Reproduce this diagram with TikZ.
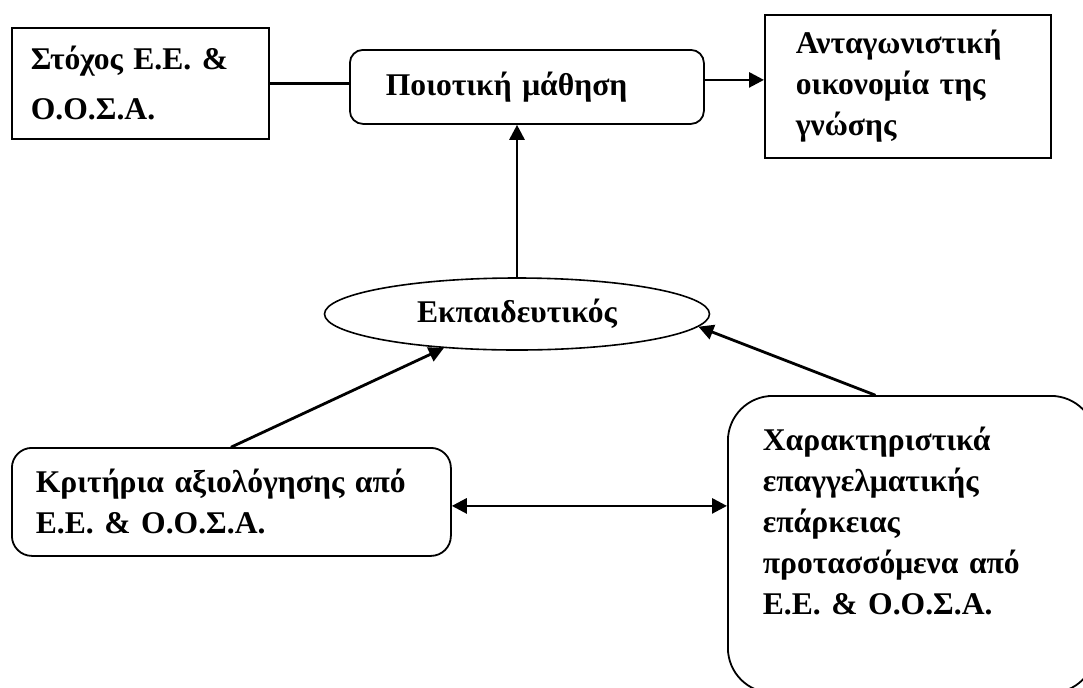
\documentclass[tikz,border=0pt]{standalone}
\usepackage{fontspec}
\setmainfont{Liberation Serif}
\usetikzlibrary{arrows.meta,shapes.geometric}

\begin{document}
\begin{tikzpicture}[x=0.5pt,y=-0.5pt,line cap=round,
  box/.style={draw,line width=0.9pt,anchor=north west,align=left,inner ysep=0pt,
    font=\bfseries\fontsize{15.8}{20.5}\selectfont},
  rbox/.style={box,rounded corners=#1},
  conn/.style={line width=1.4pt},
  arr/.style={conn,-{Triangle[length=7.5pt,width=7.5pt]}},
  dblarr/.style={conn,{Triangle[length=7.5pt,width=7.5pt]}-{Triangle[length=7.5pt,width=7.5pt]}}]

% --- Cornice ---
\useasboundingbox (0,0) rectangle (1083,687);

% --- Riquadri in alto ---
\node[box,text width=109.5pt,inner xsep=9.5pt,minimum height=55.5pt,
  font=\bfseries\fontsize{15.8}{25}\selectfont] (stoxos) at (11,27)
  {Στόχος Ε.Ε. \&\\Ο.Ο.Σ.Α.};
\node[rbox=6.5pt,text width=141pt,inner xsep=18pt,minimum height=37pt] (poiotiki) at (349,49)
  {Ποιοτική μάθηση};
\node[box,text width=112pt,inner xsep=15.5pt,minimum height=71.5pt] (antag) at (764,14)
  {Ανταγωνιστική\\οικονομία της\\γνώσης};

% --- Ellisse ---
\node[draw,ellipse,line width=0.8pt,minimum width=192.5pt,minimum height=36pt,inner sep=0pt,
  font=\bfseries\fontsize{15.8}{20.5}\selectfont] (ekp) at (517,314) {Εκπαιδευτικός};

% --- Riquadri in basso ---
\node[rbox=10pt,text width=195.5pt,inner xsep=12pt,minimum height=54pt] (kritiria) at (11,447)
  {Κριτήρια αξιολόγησης από\\Ε.Ε. \& Ο.Ο.Σ.Α.};
\node[rbox=22.5pt,text width=149pt,inner xsep=17.5pt,minimum height=148.5pt,text depth=106pt]
  (charakt) at (727,395)
  {Χαρακτηριστικά\\επαγγελματικής\\επάρκειας\\προτασσόμενα από\\Ε.Ε. \& Ο.Ο.Σ.Α.};

% --- Frecce ---
\draw[conn] (stoxos.east) -- (stoxos.east -| poiotiki.west);
\coordinate (out) at ([yshift=3.5pt]poiotiki.east);
\draw[arr] (out) -- (out -| antag.west);
\draw[arr] (ekp.north) -- (ekp.north |- poiotiki.south);
\draw[arr] (kritiria.north) -- (ekp);
\draw[arr] ([xshift=-18.5pt]charakt.north) -- (ekp.-4);
\coordinate (dbl) at ([yshift=-2pt]kritiria.east);
\draw[dblarr] (dbl) -- (dbl -| charakt.west);

\end{tikzpicture}
\end{document}
